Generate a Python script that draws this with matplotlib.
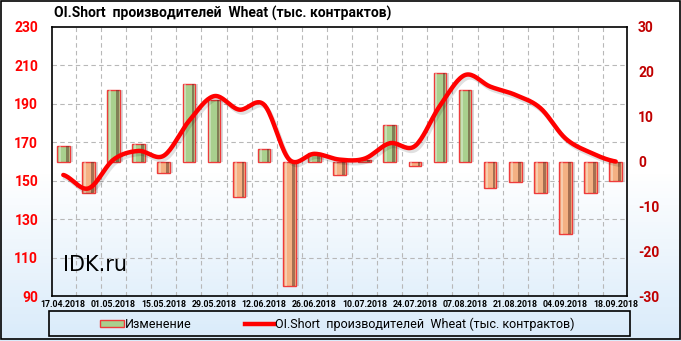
import numpy as np
import matplotlib
matplotlib.use('Agg')
import matplotlib.pyplot as plt
from matplotlib.patches import Rectangle
from matplotlib.lines import Line2D

plt.rcParams['axes.unicode_minus'] = False

# weekly dates, labels every 2 weeks
dates = ['17.04.2018', '24.04.2018', '01.05.2018', '08.05.2018', '15.05.2018',
         '22.05.2018', '29.05.2018', '05.06.2018', '12.06.2018', '19.06.2018',
         '26.06.2018', '03.07.2018', '10.07.2018', '17.07.2018', '24.07.2018',
         '31.07.2018', '07.08.2018', '14.08.2018', '21.08.2018', '28.08.2018',
         '04.09.2018', '11.09.2018', '18.09.2018']
# change (right axis)
change = [3.5, -7, 16, 4, -2.5, 17.2, 13.8, -8, 2.7, -27.8, 1.8, -3,
          0.3, 8.1, -1, 19.7, 16, -5.9, -4.5, -7.1, -16.1, -7.1, -4.3]
# OI short (left axis)
oi_short = [153, 146, 161, 165.5, 163, 181, 194, 187, 189.5, 161, 164,
            161, 161.5, 169.5, 168, 189, 205, 199, 194.7, 187.8, 172, 164.6, 160]

title = 'OI.Short  производителей  Wheat (тыс. контрактов)'
narrow = ['Roboto', 'DejaVu Sans']


def smooth(y, n=20):
    # catmull-rom curve through the points, like excel smoothed line
    p = np.concatenate([[y[0]], y, [y[-1]]])
    xs, ys = [], []
    for i in range(1, len(p) - 2):
        t = np.linspace(0, 1, n, endpoint=False)
        p0, p1, p2, p3 = p[i - 1], p[i], p[i + 1], p[i + 2]
        v = 0.5 * (2 * p1 + (-p0 + p2) * t + (2 * p0 - 5 * p1 + 4 * p2 - p3) * t ** 2
                   + (-p0 + 3 * p1 - 3 * p2 + p3) * t ** 3)
        xs.extend(i - 1 + t)
        ys.extend(v)
    xs.append(len(y) - 1)
    ys.append(y[-1])
    return np.array(xs), np.array(ys)


fig = plt.figure(figsize=(6.81, 3.41), dpi=100)

# background gradient (white on top, light blue at bottom)
bg = fig.add_axes([0, 0, 1, 1], zorder=-10)
grad = np.ones((100, 1, 3))
for k in range(100):
    f = max(0, (k - 50) / 50.0)
    grad[k, 0] = (1 - f * 0.15, 1 - f * 0.08, 1 - f * 0.02)
bg.imshow(grad, aspect='auto', extent=[0, 1, 0, 1], origin='upper')
bg.set_xlim(0, 1)
bg.set_ylim(0, 1)
bg.axis('off')
bg.add_patch(Rectangle((0.002, 0.006), 0.996, 0.99, fill=False, ec='black', lw=1.2))

ax = fig.add_axes([52 / 681, 45 / 341, 575 / 681, 269 / 341])
ax.imshow(grad[8:87], aspect='auto', extent=[-0.45, 22.45, 90, 230], origin='upper', zorder=0)
ax.set_xlim(-0.45, 22.45)
ax.set_ylim(90, 230)
ax.set_yticks(np.arange(90, 231, 20))
ax.set_yticklabels([str(v) for v in range(90, 231, 20)], family=narrow,
                   fontweight='bold', fontsize=10)
ax.tick_params(axis='y', colors='red', length=0, pad=10)
x = np.arange(len(dates))
ax.set_xticks(x[::2])
ax.set_xticklabels(dates[::2], fontsize=6.3, fontweight='bold', family=narrow)
ax.tick_params(axis='x', length=0, pad=3)
for v in np.arange(110, 230, 20):
    ax.axhline(v, color='#b8b8b8', ls=(0, (4, 3)), lw=0.8, zorder=1)
for v in np.arange(0.5, 22.5, 1):
    ax.axvline(v, color='#b8b8b8', ls=(0, (4, 3)), lw=0.8, zorder=1)
for s in ax.spines.values():
    s.set_color('black')
    s.set_linewidth(1.2)

ax2 = ax.twinx()
ax2.set_ylim(-30, 30)
ax2.set_yticks(np.arange(-30, 31, 10))
ax2.set_yticklabels([str(v) for v in range(-30, 31, 10)], family=narrow,
                    fontweight='bold', fontsize=10)
ax2.tick_params(axis='y', colors='#c00000', length=0, pad=8)
for s in ax2.spines.values():
    s.set_visible(False)

cols = ['#a9d08e' if c >= 0 else '#f4b183' for c in change]
# shadow
ax2.bar(x + 0.12, change, width=0.5, color='black', alpha=0.15, zorder=2, linewidth=0)
ax2.bar(x, change, width=0.5, color=cols, edgecolor='#ee3b3b', linewidth=1, zorder=3)
ax2.bar(x + 0.16, change, width=0.1, color='#5a3020', alpha=0.5, linewidth=0, zorder=4)
ax2.bar(x - 0.14, change, width=0.08, color='white', alpha=0.35, linewidth=0, zorder=4)

xs, ys = smooth(np.array(oi_short, dtype=float))
tr = ax.transData
ax2.plot(xs + 0.08, ys - 1.5, color='black', lw=3.2, alpha=0.12, zorder=5, transform=tr)
ax2.plot(xs, ys, color='red', lw=3.2, zorder=6, solid_capstyle='round', transform=tr)

ax2.text(0.0, 103, 'IDK.ru', fontsize=15, color='black', zorder=7, transform=tr)

fig.text(54 / 681, 1 - 13 / 341, title, fontsize=10, fontweight='bold', va='center',
         ha='left', family=narrow)

# legend
bg.add_patch(Rectangle((49 / 681, 1 - 336 / 341), 581 / 681, 25 / 341, fill=False,
                       ec='black', lw=1.2))
bg.add_patch(Rectangle((100 / 681, 1 - 327 / 341), 24 / 681, 7 / 341, fc='#a9d08e',
                       ec='#ee3b3b', lw=1))
fig.text(125 / 681, 1 - 324 / 341, 'Изменение', fontsize=9, va='center', ha='left',
         family=narrow)
bg.add_line(Line2D([245 / 681, 274 / 681], [1 - 324 / 341, 1 - 324 / 341], color='red', lw=3.2))
fig.text(275 / 681, 1 - 324 / 341, title, fontsize=9, va='center', ha='left', family=narrow)

fig.savefig('out.png', dpi=100)
